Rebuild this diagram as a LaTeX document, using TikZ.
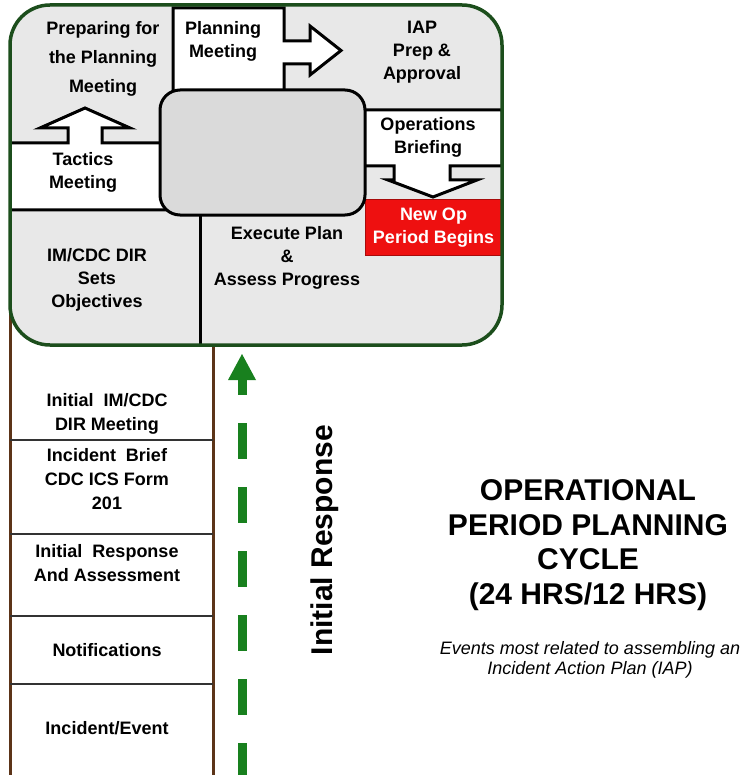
\documentclass[tikz,border=0pt]{standalone}
\usepackage{fontspec}
\setsansfont{Liberation Sans}
\usepackage{tikz}

\definecolor{cyclegreen}{RGB}{28,78,28}
\definecolor{panelgray}{RGB}{232,232,232}
\definecolor{hubgray}{RGB}{218,218,218}
\definecolor{railbrown}{RGB}{92,52,24}
\definecolor{irgreen}{RGB}{24,128,30}
\definecolor{opred}{RGB}{238,16,16}

\begin{document}
\begin{tikzpicture}[x=0.5pt,y=-0.5pt,
    lbl/.style={font=\sffamily\bfseries\fontsize{9}{11.5}\selectfont, align=center, inner sep=0pt},
    blockbox/.style={draw=black, line width=1.5pt, fill=white, line join=miter},
    rail/.style={railbrown, line width=1.5pt},
    divider/.style={draw=black!80, line width=0.75pt}]

        \useasboundingbox (0,0) rectangle (740,775);

        % Rails of the initial response stack
        \draw[rail] (10,300) -- (10,775);
        \draw[rail] (213,345) -- (213,775);

        % Cycle panel
        \fill[panelgray, rounded corners=20pt] (10,5) rectangle (502,345);
        \draw[black, line width=1.5pt] (200,215) -- (200,345);

        % Tactics box with up arrow
        \path[blockbox] (10,143) -- (68,143) -- (68,128) -- (40,128) -- (85,108)
            -- (130,128) -- (102,128) -- (102,143) -- (170,143) -- (170,210) -- (10,210);

        % Planning box with right arrow
        \path[blockbox] (173,100) -- (173,8) -- (284,8) -- (284,41) -- (310,41) -- (310,26)
            -- (341,50.5) -- (310,75) -- (310,64) -- (284,64) -- (284,100);

        % Operations box with down arrow
        \path[blockbox] (355,110) -- (502,110) -- (502,166) -- (450,166) -- (450,180)
            -- (477,180) -- (433,197) -- (388,180) -- (394,180) -- (394,166) -- (355,166);

        % New period box
        \node (newop) [lbl, fill=opred, draw=opred!70!black, line width=0.5pt,
            minimum width=68.5pt, minimum height=27.5pt, text=white] at (433.5,227.5)
            {New Op\\Period Begins};

        % Hub
        \node (hub) [draw=black, line width=1.5pt, fill=hubgray, rounded corners=10pt,
            minimum width=102.5pt, minimum height=62.5pt] at (262.5,152.5) {};

        % Panel border on top
        \draw[cyclegreen, line width=1.75pt, rounded corners=20pt] (10,5) rectangle (502,345);

        % Labels in the cycle
        \node (prep) [lbl, font=\sffamily\bfseries\fontsize{9}{14.5}\selectfont] at (103,59) {Preparing for\\the Planning\\Meeting};
        \node (plan) [lbl] at (223,41) {Planning\\Meeting};
        \node (iap) [lbl] at (422,52) {IAP\\Prep \&\\Approval};
        \node (ops) [lbl] at (428,137) {Operations\\Briefing};
        \node (tactics) [lbl] at (83,172) {Tactics\\Meeting};
        \node (objectives) [lbl] at (97,280) {IM/CDC DIR\\Sets\\Objectives};
        \node (execute) [lbl] at (287,258) {Execute Plan\\\&\\Assess Progress};

        % Stack
        \foreach \y in {440,534,616,684}
            \draw[divider] (10,\y) -- (213,\y);
        \node (dirmeet) [lbl, font=\sffamily\bfseries\fontsize{9}{12}\selectfont] at (107,414) {Initial~~IM/CDC\\DIR~Meeting};
        \node (brief) [lbl, font=\sffamily\bfseries\fontsize{9}{12}\selectfont] at (107,479) {Incident~~Brief\\CDC ICS Form\\201};
        \node (assess) [lbl, font=\sffamily\bfseries\fontsize{9}{12}\selectfont] at (107,563) {Initial~~Response\\And Assessment};
        \node (notify) [lbl] at (107,650) {Notifications};
        \node (incident) [lbl] at (107,728) {Incident/Event};

        % Initial response arrow
        \coordinate (irtail) at (242,775);
        \coordinate (irtip) at (242,354);
        \coordinate (irbase) at (242,380);
        \fill[irgreen] (irtip) -- (256,380) -- (228,380) -- cycle;
        \draw[irgreen, line width=4.5pt] (irbase) -- (242,395);
        \draw[irgreen, line width=4.5pt, dash pattern=on 18pt off 14pt] (242,423) -- (irtail);
        \node (irlabel) [lbl, font=\sffamily\bfseries\fontsize{15}{17}\selectfont, rotate=90] at (325,540) {Initial Response};

        % Title
        \node (title) [lbl, font=\sffamily\bfseries\fontsize{15}{17.25}\selectfont] at (588,545)
            {OPERATIONAL\\PERIOD PLANNING\\CYCLE\\(24 HRS/12 HRS)};
        \node (subtitle) [lbl, font=\sffamily\itshape\fontsize{9}{10}\selectfont] at (590,660)
            {Events most related to assembling an\\Incident Action Plan (IAP)};

\end{tikzpicture}
\end{document}
